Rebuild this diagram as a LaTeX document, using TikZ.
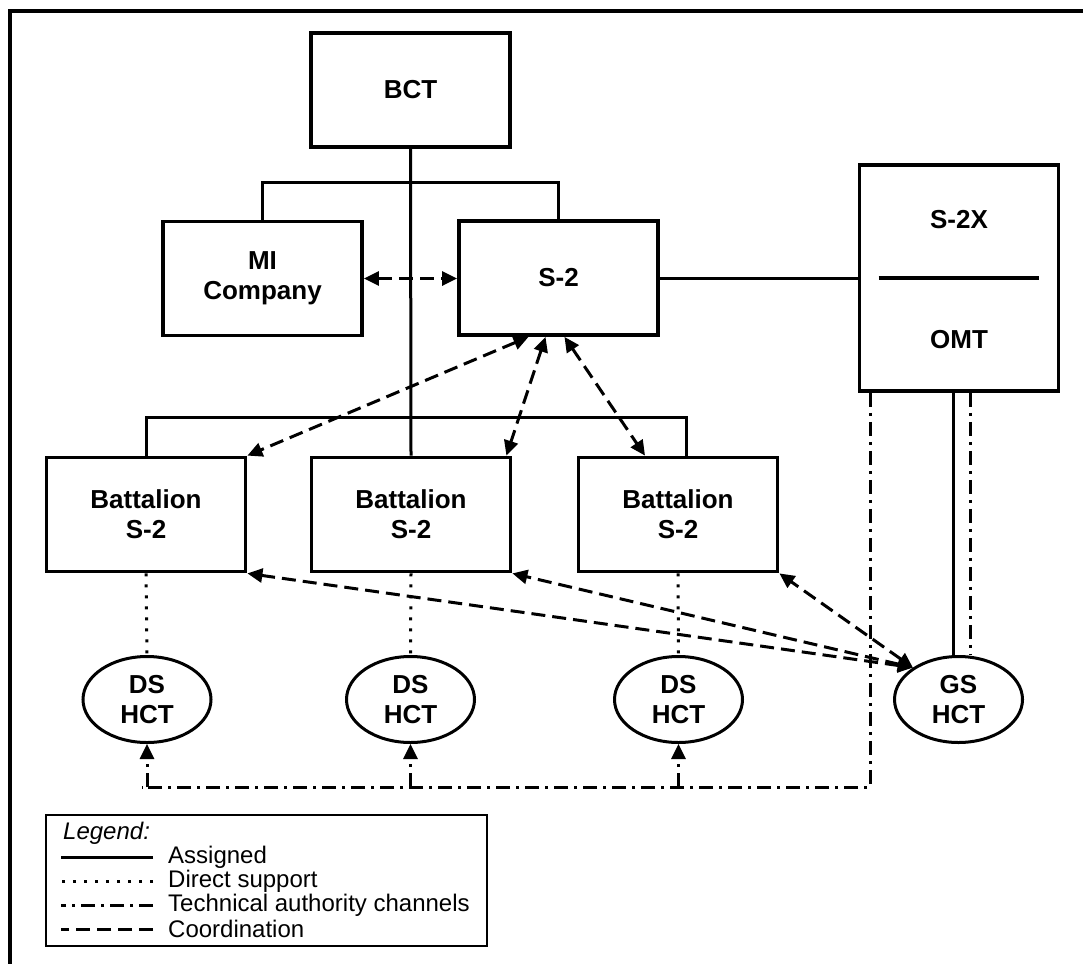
\documentclass[tikz,border=0pt]{standalone}
\usepackage{fontspec}
\setmainfont{Liberation Sans}
\usepackage{tikz}
\usetikzlibrary{
    arrows.meta,
    positioning,
    shapes.geometric,
    calc
}
\tikzset{
    boxfont/.style={font=\bfseries\fontsize{26}{30}\selectfont},
    unitbox/.style={rectangle, draw, line width=3.8pt, boxfont,
        minimum width=199pt, minimum height=114pt, inner sep=0pt, align=center},
    hct/.style={ellipse, draw, line width=3pt, boxfont,
        minimum width=128pt, minimum height=86pt, inner sep=0pt, align=center},
    assigned/.style={line width=3pt},
    dsline/.style={line width=3pt, dash pattern=on 3pt off 8pt},
    techline/.style={line width=3pt, dash pattern=on 14pt off 6pt on 3pt off 6pt},
    coordline/.style={line width=3pt, dash pattern=on 14pt off 7pt},
    legtext/.style={anchor=west, inner sep=0pt, font=\fontsize{24}{24}\selectfont},
}

\begin{document}
\begin{tikzpicture}[x=1pt, y=-1pt, >={Triangle[length=15pt,width=14pt]}]
    \useasboundingbox[fill=white] (0,0) rectangle (1083,963);
    \draw[line width=4pt] (10,990) |- (1100,11);

    %% Nodes
        \node[unitbox] (bct) at (410.5,90) {BCT};
        \node[unitbox] (mi) at (262.5,278.5) {MI\\Company};
        \node[unitbox] (s2) at (558.5,278) {S-2};
        \node[unitbox, minimum height=226pt] (s2x) at (959,278) {};
        \node[boxfont] (s2xname) at (959,220) {S-2X};
        \node[boxfont] (omt) at (959,340) {OMT};
        \node[unitbox] (bn1) at (146,514.5) {Battalion\\S-2};
        \node[unitbox] (bn2) at (411,514.5) {Battalion\\S-2};
        \node[unitbox] (bn3) at (678,514.5) {Battalion\\S-2};
        \node[hct] (ds1) at (147,699.5) {DS\\HCT};
        \node[hct] (ds2) at (410.5,699.5) {DS\\HCT};
        \node[hct] (ds3) at (678.5,699.5) {DS\\HCT};
        \node[hct] (gs) at (958.5,699.5) {GS\\HCT};
        \coordinate (omtT) at ([xshift=-89pt]s2x.south);
        \coordinate (omtL) at ([xshift=-6pt]s2x.south);
        \coordinate (omtR) at ([xshift=11pt]s2x.south);
        \coordinate (tc) at (870,787);
        \coordinate (tl) at (142,787);

    %% Edges
        \draw[line width=3.8pt] ([xshift=21pt]s2x.west) -- ([xshift=-21pt]s2x.east);
        \draw[assigned] (bct.south) -- (bn2.north);
        \draw[assigned] (mi.north) -- ++(0,-37) -| (s2.north);
        \draw[assigned] (bn1.north) -- ++(0,-38) -| ([xshift=8pt]bn3.north);
        \draw[assigned] (s2.east) -- (s2.east -| s2x.west);
        \draw[assigned] (omtL) -- (omtL |- gs.north);

        \draw[dsline] (bn1.south) -- (ds1.north);
        \draw[dsline] (bn2.south) -- (ds2.north);
        \draw[dsline] (bn3.south) -- (ds3.north);

        \draw[techline] (omtT) |- (tl);
        \draw[techline, ->] (ds1 |- tc) -- (ds1.south);
        \draw[techline, ->] (ds2 |- tc) -- (ds2.south);
        \draw[techline, ->] (ds3 |- tc) -- (ds3.south);
        \draw[techline] (omtR) -- (omtR |- gs.north);

        \draw[coordline, <->] (mi.east) -- (mi.east -| s2.west);
        \draw[coordline, <->] ([xshift=-30pt]s2.south) -- (bn1.north east);
        \draw[coordline, <->] ([xshift=-13pt]s2.south) -- ([xshift=-6pt]bn2.north east);
        \draw[coordline, <->] ([xshift=6pt]s2.south) -- ([xshift=-33pt]bn3.north);
        \draw[coordline, <->] (gs.145) -- (bn3.south east);
        \draw[coordline, <->] (gs.145) -- (bn2.south east);
        \draw[coordline, <->] (gs.145) -- (bn1.south east);

    %% Legend
        \node[draw, line width=2pt, minimum width=441pt, minimum height=131pt] (legend) at (266.5,880.5) {};
        \node[legtext] (lg0) at (63,833) {\itshape Legend:};
        \node[legtext] (lg1) at (168,857) {Assigned};
        \node[legtext] (lg2) at (168,881) {Direct support};
        \node[legtext] (lg3) at (168,905) {Technical authority channels};
        \node[legtext] (lg4) at (168,929) {Coordination};
        \draw[assigned] ([xshift=-15pt]lg1.west) -- ++(-92,0);
        \draw[dsline] ([xshift=-15pt]lg2.west) -- ++(-92,0);
        \draw[techline] ([xshift=-15pt]lg3.west) -- ++(-92,0);
        \draw[coordline] ([xshift=-15pt]lg4.west) -- ++(-92,0);
\end{tikzpicture}
\end{document}
